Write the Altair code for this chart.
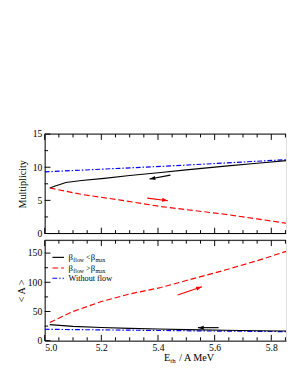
import altair as alt
import pandas as pd

# ---------------- data ----------------
# Upper panel: multiplicity
top_lt_x = [5.018, 5.04, 5.075, 5.13, 5.21, 5.30, 5.41, 5.50, 5.637, 5.75, 5.853]
top_lt_y = [6.87, 7.2, 7.7, 8.0, 8.32, 8.75, 9.2, 9.6, 10.16, 10.6, 11.0]
top_gt_x = [5.018, 5.13, 5.268, 5.41, 5.50, 5.637, 5.75, 5.853]
top_gt_y = [6.87, 5.9, 5.04, 4.07, 3.6, 2.9, 2.2, 1.55]
top_nf_x = [5.0, 5.1, 5.2, 5.3, 5.427, 5.637, 5.853]
top_nf_y = [9.29, 9.5, 9.7, 9.9, 10.16, 10.64, 11.14]

# Lower panel: <A>
bot_lt_x = [5.018, 5.1, 5.2, 5.3, 5.4, 5.5, 5.637, 5.75, 5.853]
bot_lt_y = [27.5, 24.5, 22.5, 21.0, 20.0, 19.0, 17.8, 17.0, 16.5]
bot_gt_x = [5.018, 5.1, 5.2, 5.3, 5.41, 5.5, 5.637, 5.75, 5.853]
bot_gt_y = [31, 50, 67, 80, 91, 103, 121, 137, 153]
bot_nf_x = [5.0, 5.2, 5.4, 5.6, 5.853]
bot_nf_y = [19.5, 18.5, 17.5, 16.5, 15.5]

# arrows (start -> end)
arr_top_black = ([5.444, 5.370], [8.81, 8.23])
arr_top_red = ([5.362, 5.435], [5.33, 4.94])
arr_bot_black = ([5.614, 5.541], [22.3, 22.3])
arr_bot_red = ([5.469, 5.555], [78.3, 92.3])

# ticks
x_major = [5.0, 5.2, 5.4, 5.6, 5.8]
x_minor = [5.05, 5.1, 5.15, 5.25, 5.3, 5.35, 5.45, 5.5, 5.55, 5.65, 5.7, 5.75, 5.85]
y1_major = [0, 5, 10, 15]
y1_minor = [2.5, 7.5, 12.5]
y2_major = [0, 50, 100, 150]
y2_minor = [25, 75, 125]

legend_labels = ["Without flow"]

# ---------------- styling ----------------
FONT = "Liberation Serif"
W = 250
H1 = 103
H2 = 104
XDOM = [5.0, 5.852]
Y1DOM = [0, 15]
Y2DOM = [0, 172]
BLACK = "#000000"
RED = "#ff0000"
BLUE = "#0000ff"
LW = 1.2
DASH_RED = [6, 3]
DASH_BLUE = [5, 2, 1.5, 2]
MAJ, MIN = 6, 3.5
HEAD = "M0,0L-2,-0.7L-2,0.7Z"

xscale = alt.Scale(domain=XDOM, nice=False, zero=False)


def yaxis(values, title, tx):
    return alt.Axis(
        values=values, title=title, ticks=False, tickSize=0, labelPadding=3,
        labelFont=FONT, labelFontSize=10, labelColor=BLACK,
        domainColor=BLACK, domainWidth=1, grid=False,
        titleFont=FONT, titleFontSize=10.5, titleFontWeight="normal", titleColor=BLACK,
        titleX=tx, titleBaseline="alphabetic", titleAlign="center", titleAngle=270,
    )


def series(xs, ys, P, color, dash=None):
    df = pd.DataFrame({"x": xs, "y": ys})
    kw = dict(color=color, strokeWidth=LW, clip=True)
    if dash:
        kw["strokeDash"] = dash
    return alt.Chart(df).mark_line(**kw).encode(
        x=alt.X("x:Q", scale=xscale, axis=P["xaxis"]),
        y=alt.Y("y:Q", scale=P["yscale"], axis=P["yaxis"]),
    )


def arrow(a, P, color, angle):
    xs, ys = a
    df = pd.DataFrame({"x": xs, "y": ys})
    shaft = alt.Chart(df).mark_line(color=color, strokeWidth=LW).encode(
        x=alt.X("x:Q", scale=xscale, axis=P["xaxis"]),
        y=alt.Y("y:Q", scale=P["yscale"], axis=P["yaxis"]),
    )
    end = pd.DataFrame({"x": [xs[-1]], "y": [ys[-1]]})
    head = alt.Chart(end).mark_point(
        shape=HEAD, filled=True, color=color, size=36, angle=angle, opacity=1
    ).encode(
        x=alt.X("x:Q", scale=xscale, axis=P["xaxis"]),
        y=alt.Y("y:Q", scale=P["yscale"], axis=P["yaxis"]),
    )
    return [shaft, head]


def xticks(vals, length, P):
    H = P["H"]
    df = pd.DataFrame({"x": vals})
    out = []
    for y0, y1 in [(0, length), (H, H - length)]:
        out.append(
            alt.Chart(df).mark_rule(color=BLACK, strokeWidth=1).encode(
                x=alt.X("x:Q", scale=xscale, axis=P["xaxis"]),
                y=alt.value(y0),
                y2=alt.value(y1),
            )
        )
    return out


def yticks(vals, length, P):
    df = pd.DataFrame({"y": vals})
    return alt.Chart(df).mark_rule(color=BLACK, strokeWidth=1).encode(
        y=alt.Y("y:Q", scale=P["yscale"], axis=P["yaxis"]),
        x=alt.value(0),
        x2=alt.value(length),
    )


def hline(ypix):
    return alt.Chart(pd.DataFrame({"a": [0]})).mark_rule(color=BLACK, strokeWidth=1).encode(
        x=alt.value(0), x2=alt.value(W), y=alt.value(ypix)
    )


def text(s, x, y, size, color=BLACK):
    return alt.Chart(pd.DataFrame({"a": [0]})).mark_text(
        text=s, font=FONT, fontSize=size, align="left", baseline="alphabetic", color=color
    ).encode(x=alt.value(x), y=alt.value(y))


# ---------------- upper panel ----------------
PT = dict(
    H=H1,
    yscale=alt.Scale(domain=Y1DOM, nice=False),
    xaxis=None,
    yaxis=yaxis(y1_major, "Multiplicity", -20),
)
top_layers = [
    series(top_nf_x, top_nf_y, PT, BLUE, DASH_BLUE),
    series(top_lt_x, top_lt_y, PT, BLACK),
    series(top_gt_x, top_gt_y, PT, RED, DASH_RED),
]
top_layers += arrow(arr_top_black, PT, BLACK, 169.7)
top_layers += arrow(arr_top_red, PT, RED, 9)
top_layers += xticks(x_major, MAJ, PT) + xticks(x_minor, MIN, PT)
top_layers += [yticks(y1_major, MAJ, PT), yticks(y1_minor, MIN, PT), hline(0), hline(H1)]
top = alt.layer(*top_layers).properties(width=W, height=H1)

# ---------------- lower panel ----------------
PB = dict(
    H=H2,
    yscale=alt.Scale(domain=Y2DOM, nice=False),
    xaxis=alt.Axis(
        values=x_major, format=".1f", title=None, ticks=False, tickSize=0, labelPadding=2,
        labelFont=FONT, labelFontSize=10, labelColor=BLACK, domainColor=BLACK,
        domainWidth=1, grid=False,
    ),
    yaxis=yaxis(y2_major, "< A >", -21),
)
bot_layers = [
    series(bot_nf_x, bot_nf_y, PB, BLUE, DASH_BLUE),
    series(bot_lt_x, bot_lt_y, PB, BLACK),
    series(bot_gt_x, bot_gt_y, PB, RED, DASH_RED),
]
bot_layers += arrow(arr_bot_black, PB, BLACK, 180)
bot_layers += arrow(arr_bot_red, PB, RED, 340.7)
bot_layers += xticks(x_major, MAJ, PB) + xticks(x_minor, MIN, PB)
bot_layers += [yticks(y2_major, MAJ, PB), yticks(y2_minor, MIN, PB), hline(0)]


# legend (manual, with subscripts)
def legend_line(y, color, dash=None):
    kw = dict(color=color, strokeWidth=LW)
    if dash:
        kw["strokeDash"] = dash
    return alt.Chart(pd.DataFrame({"a": [0]})).mark_rule(**kw).encode(
        x=alt.value(8), x2=alt.value(20), y=alt.value(y)
    )


for row, (color, dash, rel) in enumerate([(BLACK, None, "<"), (RED, DASH_RED, ">")]):
    ly = 17.7 + 11 * row
    by = ly + 2.8
    bot_layers += [
        legend_line(ly, color, dash),
        text("β", 24.7, by, 9),
        text("flow", 29.7, by + 2, 6),
        text(rel, 42.8, by, 8),
        text("β", 47.6, by, 9),
        text("max", 52.6, by + 2, 6),
    ]
bot_layers += [legend_line(39.3, BLUE, DASH_BLUE), text(legend_labels[0], 24.7, 42, 8.5)]

# x-axis title with subscript
bot_layers += [
    text("E", 123.5, H2 + 21, 10.5),
    text("th", 130.1, H2 + 23.5, 7),
    text("/ A MeV", 139.3, H2 + 21, 10.5),
]
bot = alt.layer(*bot_layers).properties(width=W, height=H2)

chart = (
    alt.vconcat(top, bot, spacing=0)
    .properties(padding={"left": 8, "top": 118, "right": 0, "bottom": 5})
    .configure_view(stroke=None)
    .configure(background="white")
)

chart.save("out.html", embed_options={"renderer": "svg", "actions": False})
